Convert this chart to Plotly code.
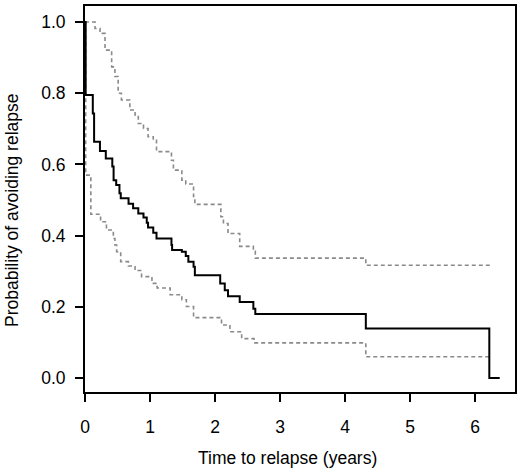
import plotly.graph_objects as go

# Kaplan-Meier estimate (time in years, survival probability)
km_time = [0, 0.01, 0.12, 0.14, 0.23, 0.32, 0.42, 0.44, 0.48, 0.53, 0.55,
           0.67, 0.74, 0.82, 0.90, 0.95, 0.97, 1.05, 1.10, 1.33, 1.34, 1.49,
           1.55, 1.59, 1.67, 1.69, 2.08, 2.15, 2.20, 2.38, 2.59, 2.62, 4.32,
           6.22, 6.38]
km_surv = [1.0, 0.795, 0.743, 0.664, 0.638, 0.617, 0.594, 0.556, 0.542, 0.519,
           0.505, 0.49, 0.477, 0.462, 0.451, 0.436, 0.423, 0.408, 0.392, 0.374,
           0.36, 0.355, 0.343, 0.327, 0.313, 0.289, 0.266, 0.247, 0.23, 0.214,
           0.195, 0.18, 0.139, 0.0, 0.0]

# upper confidence band
up_time = [0, 0.154, 0.231, 0.308, 0.41, 0.46, 0.51, 0.56, 0.69, 0.77, 0.82,
           0.90, 0.97, 1.05, 1.10, 1.33, 1.36, 1.49, 1.55, 1.67, 1.69, 2.09,
           2.13, 2.20, 2.38, 2.59, 2.62, 4.32, 6.24]
up_surv = [1.0, 0.982, 0.968, 0.921, 0.874, 0.847, 0.80, 0.781, 0.753, 0.739,
           0.715, 0.701, 0.678, 0.668, 0.636, 0.612, 0.584, 0.556, 0.545, 0.51,
           0.488, 0.453, 0.434, 0.406, 0.37, 0.356, 0.337, 0.317, 0.317]

# lower confidence band
lo_time = [0, 0.01, 0.09, 0.24, 0.33, 0.436, 0.46, 0.487, 0.549, 0.667, 0.77,
           0.87, 1.03, 1.11, 1.31, 1.49, 1.56, 1.67, 2.10, 2.23, 2.41, 2.60,
           4.32, 6.24]
lo_surv = [1.0, 0.57, 0.46, 0.439, 0.416, 0.392, 0.374, 0.355, 0.327, 0.315,
           0.302, 0.285, 0.266, 0.253, 0.234, 0.22, 0.201, 0.17, 0.149, 0.13,
           0.111, 0.099, 0.06, 0.06]

x_ticks = [0, 1, 2, 3, 4, 5, 6]
y_ticks = [0.0, 0.2, 0.4, 0.6, 0.8, 1.0]

FONT = "Liberation Sans, Arial, sans-serif"
FSIZE = 17.5
GREY = "#8a8a8a"

fig = go.Figure()

for t, s in [(up_time, up_surv), (lo_time, lo_surv)]:
    fig.add_trace(go.Scatter(
        x=t, y=s, mode="lines", line_shape="hv",
        line=dict(color=GREY, width=1.6, dash="4px,3px"),
        showlegend=False, hoverinfo="skip"
    ))

fig.add_trace(go.Scatter(
    x=km_time, y=km_surv, mode="lines", line_shape="hv",
    line=dict(color="black", width=2),
    showlegend=False
))

axis_common = dict(
    showline=True, linecolor="black", linewidth=2, mirror=True,
    showgrid=False, zeroline=False, automargin=False,
    ticks="outside", ticklen=8, tickwidth=1.5, tickcolor="black",
    tickfont=dict(family=FONT, size=FSIZE, color="black"),
)

fig.update_xaxes(range=[0, 6.615], tickvals=x_ticks, ticklabelstandoff=10,
                 **axis_common)
fig.update_yaxes(range=[-0.039, 1.045], tickvals=y_ticks, tickformat=".1f",
                 ticklabelstandoff=6, **axis_common)

# axis titles placed by hand, like the R base-graphics original
fig.add_annotation(text="Time to relapse (years)", xref="paper", yref="paper",
                   x=0.472, y=0, yanchor="middle", yshift=-66, showarrow=False,
                   font=dict(family=FONT, size=FSIZE, color="black"))
fig.add_annotation(text="Probability of avoiding relapse", xref="paper",
                   yref="paper", x=0, y=0.469, xanchor="center",
                   yanchor="middle", xshift=-73, textangle=-90,
                   showarrow=False,
                   font=dict(family=FONT, size=FSIZE, color="black"))

fig.update_layout(
    width=520, height=469,
    margin=dict(l=85, r=5, t=6, b=77),
    plot_bgcolor="white", paper_bgcolor="white",
    font=dict(family=FONT, size=FSIZE, color="black"),
)

# drop the browser's default page margin so the figure sits at 0,0
fig.write_html("out.html", config={"displayModeBar": False},
               post_script="document.body.style.margin='0';"
                           "document.body.style.overflow='hidden';")
